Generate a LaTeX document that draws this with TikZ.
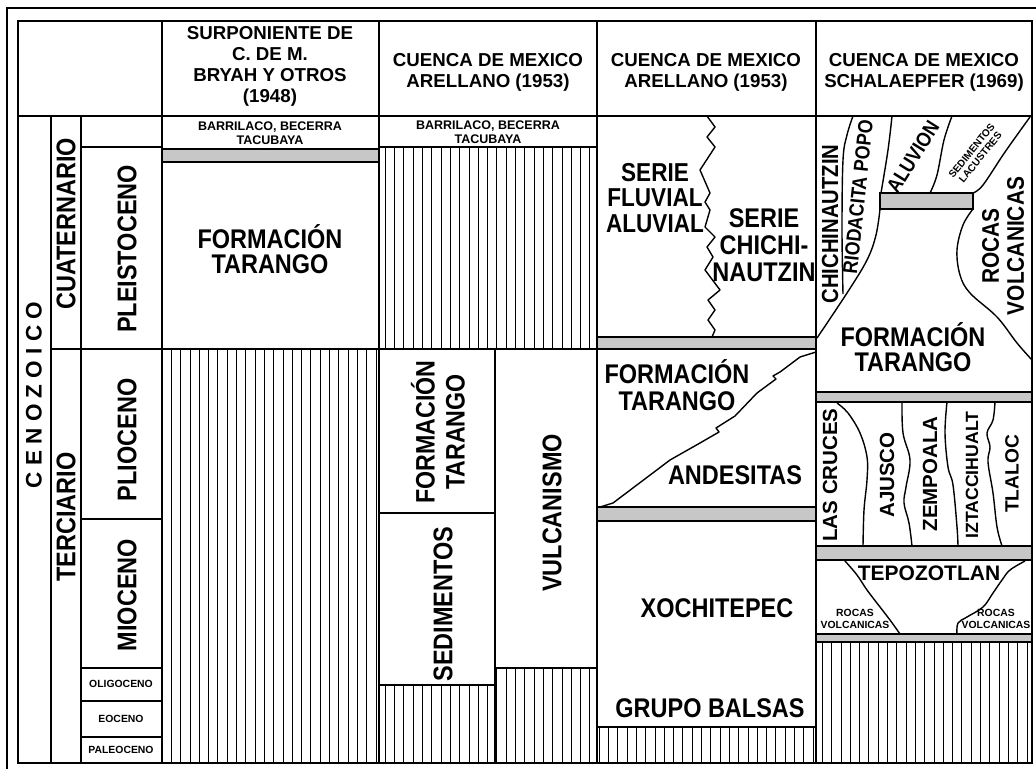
\documentclass[tikz,border=0pt]{standalone}
\usepackage{fontspec}
\setmainfont{Liberation Sans}
\newfontfamily\condsans[FakeStretch=0.87]{Liberation Sans}
\newcommand{\setfs}[2]{\condsans\fontsize{#1}{#2}\selectfont\bfseries}
\newcommand{\setfn}[2]{\fontsize{#1}{#2}\selectfont\bfseries}
\newcommand{\hatchbox}[4]{%
  \begin{scope}
    \clip (#1,#2) rectangle (#3,#4);
    \foreach \i in {0,...,111} {
      \pgfmathsetmacro\hx{floor(4+\i*9.3)+0.5}
      \draw[hatchline] (\hx,#2) -- (\hx,#4);}
  \end{scope}}

\begin{document}
\begin{tikzpicture}[x=1pt, y=-1pt, line width=1.8pt,
  lbl/.style={font=\setfs{27}{25.5}, align=center, inner sep=0pt},
  lhead/.style={lbl, font=\setfn{18.7}{21}},
  lmid/.style={lbl, font=\setfn{20.5}{25}},
  lsmall/.style={lbl, font=\setfn{12.5}{14}},
  ltiny/.style={lbl, font=\setfn{10.4}{12}},
  band/.style={fill=black!22, draw=black, line width=1.4pt},
  hatchline/.style={line width=1.3pt},
  contact/.style={line width=1.4pt, line join=round}]
\useasboundingbox (0,0) rectangle (1036,769);

% hatched ground
\hatchbox{162}{349}{379}{763}
\hatchbox{379}{147}{597}{349}
\hatchbox{379}{685}{495}{763}
\hatchbox{495}{668}{597}{763}
\hatchbox{597}{727}{816}{763}
\hatchbox{816}{642}{1032}{763}

% grey bands
\draw[band] (162,149) rectangle (379,162);
\draw[band] (597,337) rectangle (816,349);
\draw[band] (597,507) rectangle (816,521);
\draw[band] (880,193) rectangle (973,209);
\draw[band] (816,392) rectangle (1032,402);
\draw[band] (816,546) rectangle (1032,560);
\draw[band] (816,634) rectangle (1032,642);

% table
\draw[line width=2pt] (1036,8) -- (7,8) -- (7,769);
\draw (18,21) rectangle (1032,763);
\draw (18,116) -- (1032,116);
\foreach \x in {162,379,597,816} \draw (\x,21) -- (\x,763);
\foreach \x in {51,81} \draw (\x,116) -- (\x,763);
\draw (51,349) -- (597,349);
\foreach \y in {147,519,668,701,737} \draw (81,\y) -- (162,\y);
\draw (379,147) -- (597,147);
\draw (495,349) -- (495,763);
\draw (379,513) -- (495,513);
\draw (379,685) -- (495,685);
\draw (495,668) -- (597,668);
\draw (597,727) -- (816,727);

% contacts
\draw[contact] (707,116) -- (715,127) -- (707,137) -- (715,147) -- (700,170) -- (710,193)
  -- (705,202) -- (710,210) -- (705,227) -- (715,237) -- (707,247) -- (713,257) -- (705,270)
  -- (720,290) -- (708,300) -- (715,310) -- (708,320) -- (715,330) -- (712,337);
\draw[contact] (816,352) -- (800,357) -- (780,372) -- (773,376) -- (776,379) -- (757,393)
  -- (735,416) -- (716,428) -- (719,432) -- (700,443) -- (670,460) -- (613,503) -- (600,507);
\draw[contact] plot[smooth, tension=0.6] coordinates {(853,116) (847,135) (843,160) (842,230) (843,294)};
\draw[contact] plot[smooth, tension=0.6] coordinates {(892,116) (888,150) (881,193)};
\draw[contact] plot[smooth, tension=0.6] coordinates {(880,209) (876,235) (867,260) (847,293) (817,338)};
\draw[contact] plot[smooth, tension=0.6] coordinates {(952,116) (944,140) (937,175) (930,193)};
\draw[contact] plot[smooth, tension=0.6] coordinates {(1030,117) (1005,152) (983,185) (973,193)};
\draw[contact] plot[smooth, tension=0.6] coordinates {(973,209) (963,225) (957,250) (960,275) (970,293) (997,317) (1017,343) (1032,360)};
\draw[contact] plot[smooth, tension=0.6] coordinates {(837,403) (848,413) (860,433) (867,457) (867,480) (864,510) (863,546)};
\draw[contact] plot[smooth, tension=0.6] coordinates {(902,402) (903,433) (910,460) (906,487) (904,503) (909,523) (912,546)};
\draw[contact] plot[smooth, tension=0.6] coordinates {(947,402) (945,433) (948,467) (953,485) (957,527) (958,546)};
\draw[contact] plot[smooth, tension=0.6] coordinates {(995,402) (993,420) (987,433) (990,447) (988,462) (993,493) (997,527) (1002,546)};
\draw[contact] plot[smooth, tension=0.6] coordinates {(845,561) (857,575) (867,590) (880,607) (890,620) (900,634)};
\draw[contact] plot[smooth, tension=0.6] coordinates {(1025,561) (1010,570) (1002,580) (993,593) (983,607) (967,617) (958,623) (957,634)};

% headers
\node[lhead] (hsurp) at (270,66) {SURPONIENTE DE\\C. DE M.\\BRYAH Y OTROS\\(1948)};
\node[lhead] (harel) at (488,72) {CUENCA DE MEXICO\\ARELLANO (1953)};
\node[lhead] (harelb) at (706,72) {CUENCA DE MEXICO\\ARELLANO (1953)};
\node[lhead] (hschal) at (924,72) {CUENCA DE MEXICO\\SCHALAEPFER (1969)};

% time scale
\node[lbl, rotate=90, font=\setfn{22.5}{25}] (cenoz) at (34,395) {C~E~N~O~Z~O~I~C~O};
\node[lbl, rotate=90] (cuat) at (66,224) {CUATERNARIO};
\node[lbl, rotate=90] (terc) at (66,517) {TERCIARIO};
\node[lbl, rotate=90] (pleis) at (127,249) {PLEISTOCENO};
\node[lbl, rotate=90] (plio) at (127,440) {PLIOCENO};
\node[lbl, rotate=90] (mio) at (127,595) {MIOCENO};
\node[ltiny] (oligo) at (121,684) {OLIGOCENO};
\node[ltiny] (eoc) at (121,719) {EOCENO};
\node[ltiny] (paleo) at (121,750) {PALEOCENO};

% surponiente
\node[lsmall] (barra) at (270,133) {BARRILACO, BECERRA\\TACUBAYA};
\node[lbl] (tara) at (270,249) {FORMACIÓN\\TARANGO};

% arellano
\node[lsmall] (barrb) at (488,132) {BARRILACO, BECERRA\\TACUBAYA};
\node[lbl, rotate=90, font=\setfs{26.7}{30}] (tarb) at (438,432) {FORMACIÓN\\TARANGO};
\node[lbl, rotate=90] (sedb) at (443,604) {SEDIMENTOS};
\node[lbl, rotate=90] (vulc) at (552,513) {VULCANISMO};

% arellano, second
\node[lbl, font=\setfs{25.9}{25.5}] (fluv) at (655,198) {SERIE\\FLUVIAL\\ALUVIAL};
\node[lbl, font=\setfs{27}{27}] (chichi) at (764,245) {SERIE\\CHICHI-\\NAUTZIN};
\node[lbl, font=\setfs{27}{27}] (tarc) at (677,385) {FORMACIÓN\\TARANGO};
\node[lbl] (andes) at (735,475) {ANDESITAS};
\node[lbl] (xoch) at (717,608) {XOCHITEPEC};
\node[lbl] (balsas) at (710,708) {GRUPO BALSAS};

% schalaepfer
\node[lbl, rotate=90, font=\setfs{23.3}{24}] (chin) at (830,224) {CHICHINAUTZIN};
\node[lbl, rotate=84, font=\setfs{20.5}{20}] (riod) at (858,197) {RIODACITA POPO};
\node[lbl, rotate=58, font=\setfs{20.5}{20}] (aluv) at (913,157) {ALUVION};
\node[lbl, rotate=51, font=\setfn{10.1}{11}] (lacus) at (976,154) {SEDIMENTOS\\LACUSTRES};
\node[lbl, rotate=90, font=\setfs{24}{25}] (rocvol) at (1003,246) {ROCAS\\VOLCANICAS};
\node[lbl] (tard) at (913,347) {FORMACIÓN\\TARANGO};
\node[lmid, rotate=90] (cruces) at (830,475) {LAS CRUCES};
\node[lmid, rotate=90] (ajusco) at (887,475) {AJUSCO};
\node[lmid, rotate=90] (zemp) at (930,474) {ZEMPOALA};
\node[lbl, rotate=90, font=\setfn{17.7}{20}] (izta) at (972,475) {IZTACCIHUALT};
\node[lbl, rotate=90, font=\setfn{19.2}{22}] (tlaloc) at (1012,474) {TLALOC};
\node[lbl, font=\setfn{21}{24}] (tepoz) at (929,573) {TEPOZOTLAN};
\node[ltiny] (rocl) at (855,619) {ROCAS\\VOLCANICAS};
\node[ltiny] (rocr) at (996,619) {ROCAS\\VOLCANICAS};
\end{tikzpicture}
\end{document}
